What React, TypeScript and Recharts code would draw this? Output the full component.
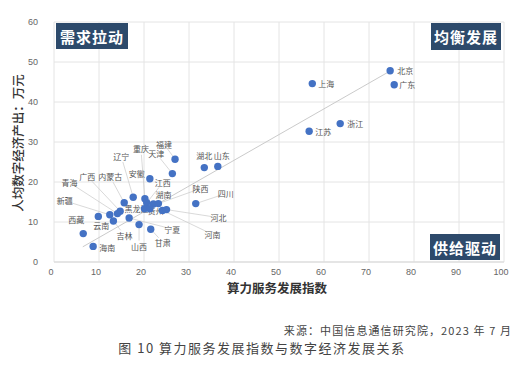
import React from 'react';
import { ScatterChart, Scatter, XAxis, YAxis, CartesianGrid, ReferenceLine } from 'recharts';

const PROVINCES = ['北京','广东','上海','浙江','江苏','福建','天津','湖北','山东','安徽','四川','辽宁','重庆','江西','湖南','陕西','黑龙江','贵州','河南','河北','甘肃','宁夏','吉林','山西','内蒙古','广西','青海','新疆','云南','西藏','海南'];
const COMPUTE_INDEX = [74.7,75.6,57.4,63.6,56.7,26.9,26.3,33.4,36.4,21.3,31.5,17.6,20.2,20.6,22.1,23.2,20.1,21.3,24.1,25.0,21.5,16.7,13.2,18.9,15.6,14.7,14.1,12.4,9.85,6.5,8.7];
const OUTPUT_PER_CAPITA = [47.8,44.3,44.6,34.6,32.7,25.7,22.1,23.6,23.9,20.8,14.6,16.2,15.8,14.8,14.5,14.6,13.3,13.3,12.9,13.1,8.2,11.0,10.25,9.35,14.8,12.7,12.1,11.8,11.4,7.1,3.9];

const X_TICKS = [0,10,20,30,40,50,60,70,80,90,100];
const Y_TICKS = [0,10,20,30,40,50,60];
const TREND_X = [6.4, 74.0];
const TREND_Y = [3.8, 47.3];

// label placement (pixel offsets of label centre from its point) – layout only
const LABEL_OFFSET: Record<string, [number, number]> = {
  '北京': [15, 0], '广东': [13, 0], '上海': [14, 0], '浙江': [15, 0], '江苏': [14, 0],
  '福建': [-11, -15], '天津': [-16, -20], '湖北': [0, -12], '山东': [4, -11], '安徽': [-13, -5],
  '四川': [30, -10], '辽宁': [-12, -41], '重庆': [-4, -50], '江西': [16, -20], '湖南': [10, -10],
  '陕西': [42, -15], '黑龙江': [-8, 0], '贵州': [6, 2], '河南': [50, 24], '河北': [52, 8],
  '甘肃': [12, 13], '宁夏': [43, 11], '吉林': [11, 14], '山西': [0, 22], '内蒙古': [-14, -26],
  '广西': [-33, -35], '青海': [-48, -31], '新疆': [-45, -14], '云南': [3, 9], '西藏': [-7, -14],
  '海南': [14, 1],
};

const data = PROVINCES.map((name, i) => ({ name, x: COMPUTE_INDEX[i], y: OUTPUT_PER_CAPITA[i] }));

const CJK = '"Noto Sans CJK SC", "Noto Sans", sans-serif';

const LabelShape = (props: any) => {
  const { cx, cy, payload } = props;
  if (cx == null || cy == null) return <g />;
  const [dx, dy] = LABEL_OFFSET[payload.name] || [12, 0];
  const lx = cx + dx;
  const ly = cy + dy;
  const dist = Math.sqrt(dx * dx + dy * dy);
  let line = null;
  if (dist > 16) {
    const ux = dx / dist;
    const uy = dy / dist;
    const ex = lx - ux * 6;
    const ey = ly - uy * 6;
    line = <line x1={cx} y1={cy} x2={ex} y2={ey} stroke="#c8c8c8" strokeWidth={0.7} />;
  }
  return (
    <g>
      {line}
      <text x={lx} y={ly} textAnchor="middle" dominantBaseline="central" fontSize={8} fill="#555" fontFamily={CJK}>
        {payload.name}
      </text>
    </g>
  );
};

const DotShape = (props: any) => {
  const { cx, cy } = props;
  if (cx == null || cy == null) return <g />;
  return <circle cx={cx} cy={cy} r={3.7} fill="#4472C4" />;
};

const boxStyle: React.CSSProperties = {
  position: 'absolute',
  background: '#2d4a6b',
  color: '#fff',
  fontFamily: CJK,
  fontWeight: 700,
  fontSize: 15,
  letterSpacing: 1,
  display: 'flex',
  alignItems: 'center',
  justifyContent: 'center',
  height: 26,
  width: 71,
};

export default function App() {
  return (
    <div style={{ position: 'absolute', left: 0, top: 0, width: 523, height: 366, background: '#fff', overflow: 'hidden' }}>
      <ScatterChart width={523} height={366} margin={{ top: 22, right: 19, bottom: 74, left: 24 }}>
        <CartesianGrid stroke="#e4e4e4" strokeWidth={1} />
        <XAxis
          type="number"
          dataKey="x"
          domain={[0, 100]}
          ticks={X_TICKS}
          height={30}
          tickLine={false}
          tickSize={0}
          tickMargin={7}
          axisLine={{ stroke: '#d9d9d9' }}
          tick={{ fontSize: 9, fill: '#666', fontFamily: '"Liberation Sans", Arial, sans-serif', dx: -3 }}
          interval={0}
        />
        <YAxis
          type="number"
          dataKey="y"
          domain={[0, 60]}
          ticks={Y_TICKS}
          width={30}
          tickLine={false}
          tickSize={0}
          tickMargin={16}
          axisLine={false}
          tick={{ fontSize: 9, fill: '#666', fontFamily: '"Liberation Sans", Arial, sans-serif' }}
          interval={0}
        />
        <ReferenceLine
          segment={[{ x: TREND_X[0], y: TREND_Y[0] }, { x: TREND_X[1], y: TREND_Y[1] }]}
          stroke="#c4c4c4"
          strokeWidth={0.9}
        />
        <Scatter data={data} shape={LabelShape} isAnimationActive={false} />
        <Scatter data={data} shape={DotShape} isAnimationActive={false} />
      </ScatterChart>

      <div style={{ ...boxStyle, left: 56, top: 23, width: 72 }}>需求拉动</div>
      <div style={{ ...boxStyle, left: 431, top: 23, width: 70, height: 27 }}>均衡发展</div>
      <div style={{ ...boxStyle, left: 430, top: 234, width: 70 }}>供给驱动</div>

      <div
        style={{
          position: 'absolute', left: 17, top: 143, transform: 'translate(-50%, -50%) rotate(-90deg)',
          whiteSpace: 'nowrap', fontFamily: CJK, fontSize: 12.5, color: '#333', fontWeight: 500,
        }}
      >
        人均数字经济产出：万元
      </div>
      <div
        style={{
          position: 'absolute', left: 277, top: 287, transform: 'translate(-50%, -50%)',
          whiteSpace: 'nowrap', fontFamily: CJK, fontSize: 12.5, color: '#333', fontWeight: 700,
        }}
      >
        算力服务发展指数
      </div>
      <div
        style={{
          position: 'absolute', right: 11, top: 330, transform: 'translateY(-50%)',
          whiteSpace: 'nowrap', fontFamily: CJK, fontSize: 11, color: '#444', letterSpacing: 1.1,
        }}
      >
        来源：中国信息通信研究院，2023 年 7 月
      </div>
      <div
        style={{
          position: 'absolute', left: 262, top: 347, transform: 'translate(-50%, -50%)',
          whiteSpace: 'nowrap', fontFamily: CJK, fontSize: 13, color: '#444', letterSpacing: 1.5,
        }}
      >
        图 10 算力服务发展指数与数字经济发展关系
      </div>
    </div>
  );
}
